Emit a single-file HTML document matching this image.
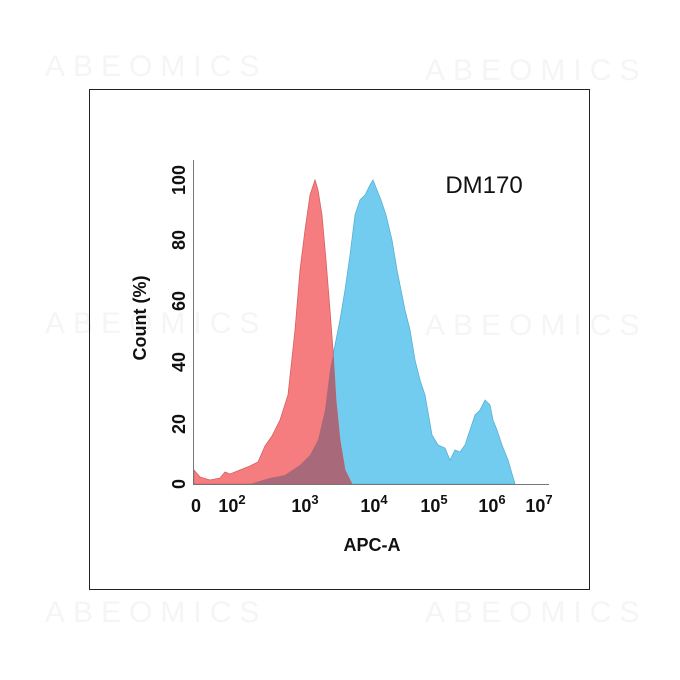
<!DOCTYPE html>
<html><head><meta charset="utf-8"><style>
html,body{margin:0;padding:0;background:#fff;}
svg{display:block;}
text{font-family:"Liberation Sans",Arial,sans-serif;}
</style></head><body>
<svg width="680" height="680" viewBox="0 0 680 680" xmlns="http://www.w3.org/2000/svg">
<rect width="680" height="680" fill="#fff"/>
<g fill="#f5f5f5" font-size="30" letter-spacing="8">
<text x="45" y="76">ABEOMICS</text>
<text x="425" y="80">ABEOMICS</text>
<text x="45" y="333">ABEOMICS</text>
<text x="425" y="335">ABEOMICS</text>
<text x="45" y="622">ABEOMICS</text>
<text x="425" y="622">ABEOMICS</text>
</g>
<rect x="89.5" y="89.5" width="500" height="500" fill="none" stroke="#222" stroke-width="1"/>
<defs>
<path id="blue" d="M250,484 L270,478 L285,475 L300,465 L310,455 L318,440 L325,410 L330,370 L335,345 L340,320 L345,290 L350,255 L355,215 L360,200 L365,195 L370,185 L373,180 L377,190 L381,200 L386,215 L392,240 L397,270 L400,285 L405,310 L410,330 L415,360 L420,380 L425,395 L432,435 L438,445 L445,448 L450,460 L455,450 L460,452 L465,445 L470,430 L475,415 L480,410 L485,400 L490,405 L493,420 L497,430 L502,445 L508,460 L515,484 Z"/>
<path id="red" d="M194,470 L200,477 L210,480 L220,478 L225,472 L230,474 L240,470 L250,466 L258,462 L265,446 L272,436 L280,420 L288,395 L295,330 L300,270 L305,230 L310,195 L315,180 L318,190 L322,215 L326,260 L330,310 L333,350 L336,400 L340,440 L345,470 L352,484 L194,484 Z"/>
<clipPath id="cb"><use href="#blue"/></clipPath>
</defs>
<use href="#blue" fill="#72ccef" stroke="#5ab0d4" stroke-width="0.8"/>
<use href="#red" fill="#f67d7f" stroke="#d86060" stroke-width="0.8"/>
<use href="#red" fill="#a8697a" clip-path="url(#cb)"/>
<line x1="193.5" y1="160" x2="193.5" y2="485" stroke="#777" stroke-width="1"/>
<line x1="193" y1="484.5" x2="549" y2="484.5" stroke="#777" stroke-width="1"/>
<text x="484" y="193" font-size="24" text-anchor="middle" fill="#111">DM170</text>
<g font-size="18" font-weight="bold" fill="#111" text-anchor="middle">
<text transform="translate(185,484) rotate(-90)">0</text>
<text transform="translate(185,424) rotate(-90)">20</text>
<text transform="translate(185,362) rotate(-90)">40</text>
<text transform="translate(185,301) rotate(-90)">60</text>
<text transform="translate(185,240) rotate(-90)">80</text>
<text transform="translate(185,180) rotate(-90)">100</text>
<text transform="translate(146,318) rotate(-90)">Count  (%)</text>
<text x="196" y="512">0</text>
<text x="232" y="512">10<tspan font-size="13" dy="-8">2</tspan></text>
<text x="305" y="512">10<tspan font-size="13" dy="-8">3</tspan></text>
<text x="374" y="512">10<tspan font-size="13" dy="-8">4</tspan></text>
<text x="434" y="512">10<tspan font-size="13" dy="-8">5</tspan></text>
<text x="492" y="512">10<tspan font-size="13" dy="-8">6</tspan></text>
<text x="539" y="512">10<tspan font-size="13" dy="-8">7</tspan></text>
<text x="372" y="551">APC-A</text>
</g>
</svg>
</body></html>
